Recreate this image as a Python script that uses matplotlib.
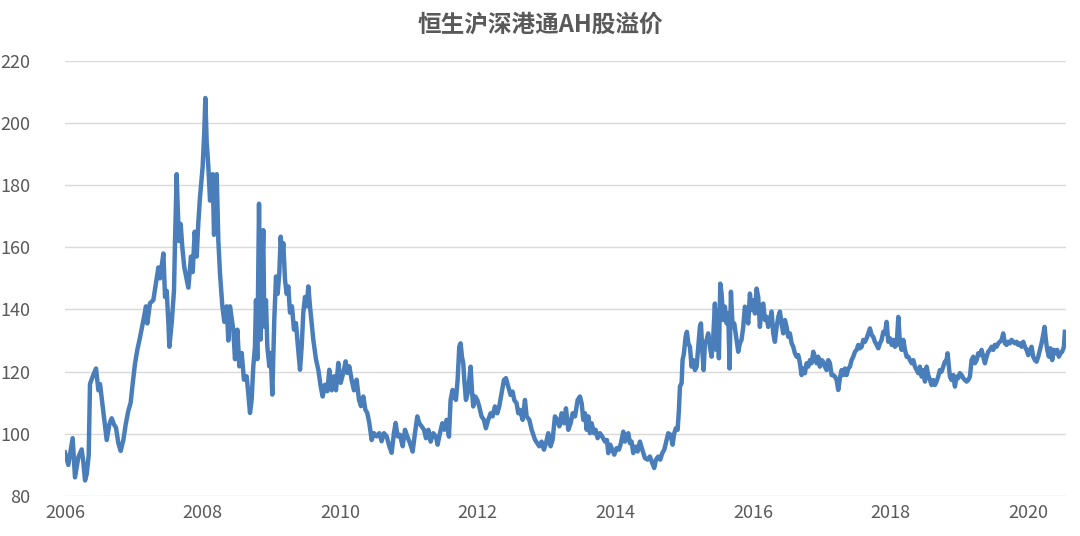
import matplotlib
matplotlib.use("Agg")
import matplotlib.pyplot as plt

plt.rcParams['font.family'] = ['Noto Sans CJK SC', 'DejaVu Sans']

title = "恒生沪深港通AH股溢价"

# decimal year / premium index
years = [
    2006.000, 2006.048, 2006.111, 2006.145, 2006.194, 2006.242, 2006.266, 2006.291, 2006.315, 2006.344,
    2006.363, 2006.412, 2006.451, 2006.485, 2006.509, 2006.547, 2006.581, 2006.606, 2006.644, 2006.678,
    2006.712, 2006.741, 2006.775, 2006.809, 2006.848, 2006.882, 2006.921, 2006.954, 2006.983, 2007.017,
    2007.051, 2007.090, 2007.139, 2007.177, 2007.196, 2007.235, 2007.284, 2007.318, 2007.357, 2007.381,
    2007.430, 2007.454, 2007.478, 2007.503, 2007.517, 2007.550, 2007.584, 2007.599, 2007.623, 2007.638,
    2007.657, 2007.681, 2007.705, 2007.734, 2007.793, 2007.831, 2007.856, 2007.885, 2007.914, 2007.938,
    2007.962, 2008.001, 2008.025, 2008.040, 2008.059, 2008.083, 2008.108, 2008.146, 2008.166, 2008.205,
    2008.229, 2008.253, 2008.287, 2008.316, 2008.350, 2008.374,
    2008.398, 2008.446, 2008.471, 2008.505, 2008.534, 2008.568, 2008.601, 2008.640, 2008.664, 2008.689,
    2008.713, 2008.737, 2008.761, 2008.776, 2008.795, 2008.820, 2008.844, 2008.858, 2008.882, 2008.897,
    2008.921, 2008.941, 2008.970, 2008.989, 2009.013, 2009.042, 2009.067, 2009.091, 2009.115, 2009.135,
    2009.154, 2009.173, 2009.198, 2009.222, 2009.246, 2009.270, 2009.299, 2009.328, 2009.357, 2009.382,
    2009.416, 2009.440, 2009.464, 2009.488, 2009.512, 2009.537, 2009.561, 2009.585, 2009.609, 2009.648,
    2009.682, 2009.716, 2009.745, 2009.779, 2009.813, 2009.842, 2009.876, 2009.910, 2009.939, 2009.973,
    2010.007, 2010.045, 2010.079, 2010.103, 2010.132, 2010.166, 2010.200, 2010.239, 2010.273, 2010.302,
    2010.336, 2010.365, 2010.394, 2010.423, 2010.457, 2010.491, 2010.530, 2010.569, 2010.602, 2010.636,
    2010.675, 2010.714, 2010.748, 2010.781, 2010.806, 2010.835,
    2010.869, 2010.908, 2010.942, 2010.976, 2011.014, 2011.053, 2011.087, 2011.121, 2011.150, 2011.184,
    2011.218, 2011.247, 2011.281, 2011.315, 2011.353, 2011.392, 2011.416, 2011.450, 2011.484, 2011.513,
    2011.547, 2011.581, 2011.605, 2011.634, 2011.658, 2011.682, 2011.707, 2011.731, 2011.750, 2011.770,
    2011.789, 2011.804, 2011.828, 2011.852, 2011.876, 2011.896, 2011.915, 2011.934, 2011.963, 2011.992,
    2012.021, 2012.055, 2012.089, 2012.118, 2012.152, 2012.186, 2012.215, 2012.249, 2012.283, 2012.312,
    2012.346, 2012.380, 2012.409, 2012.443, 2012.477, 2012.506, 2012.530, 2012.564, 2012.589, 2012.613,
    2012.652, 2012.686, 2012.710, 2012.749, 2012.783, 2012.807, 2012.832, 2012.865, 2012.894, 2012.928,
    2012.962, 2012.991, 2013.025, 2013.059, 2013.088, 2013.122, 2013.156, 2013.186, 2013.219, 2013.253,
    2013.282, 2013.316, 2013.350, 2013.379,
    2013.413, 2013.452, 2013.485, 2013.510, 2013.534, 2013.558, 2013.583, 2013.607, 2013.631, 2013.655,
    2013.689, 2013.713, 2013.742, 2013.776, 2013.810, 2013.849, 2013.878, 2013.897, 2013.926, 2013.955,
    2013.984, 2014.018, 2014.052, 2014.081, 2014.115, 2014.139, 2014.163, 2014.188, 2014.212, 2014.236,
    2014.260, 2014.294, 2014.323, 2014.357, 2014.391, 2014.430, 2014.468, 2014.502, 2014.536, 2014.565,
    2014.590, 2014.624, 2014.653, 2014.682, 2014.711, 2014.745, 2014.769, 2014.803, 2014.832, 2014.856,
    2014.880, 2014.905, 2014.924, 2014.939, 2014.963, 2014.977, 2014.997, 2015.021, 2015.040, 2015.060,
    2015.084, 2015.108, 2015.132, 2015.157, 2015.181, 2015.205, 2015.229, 2015.244, 2015.263, 2015.283,
    2015.302, 2015.326, 2015.350, 2015.374, 2015.399, 2015.423, 2015.447, 2015.467, 2015.486, 2015.505,
    2015.525, 2015.544, 2015.568, 2015.592, 2015.617, 2015.641, 2015.660, 2015.680, 2015.704, 2015.728,
    2015.762, 2015.786, 2015.810, 2015.834, 2015.859, 2015.883, 2015.907, 2015.931,
    2015.956, 2015.980, 2016.004, 2016.029, 2016.053, 2016.077, 2016.101, 2016.126, 2016.150, 2016.174,
    2016.198, 2016.222, 2016.247, 2016.271, 2016.295, 2016.319, 2016.344, 2016.368, 2016.392, 2016.416,
    2016.440, 2016.465, 2016.489, 2016.513, 2016.537, 2016.562, 2016.586, 2016.610, 2016.634, 2016.659,
    2016.683, 2016.707, 2016.731, 2016.755, 2016.780, 2016.804, 2016.828, 2016.852, 2016.877, 2016.901,
    2016.925, 2016.949, 2016.973, 2016.998, 2017.022, 2017.046, 2017.070, 2017.095, 2017.119, 2017.143,
    2017.167, 2017.192, 2017.216, 2017.240, 2017.264, 2017.289, 2017.313, 2017.337, 2017.361, 2017.386,
    2017.410, 2017.434, 2017.458, 2017.483, 2017.507, 2017.531, 2017.555, 2017.580, 2017.604, 2017.628,
    2017.652, 2017.676, 2017.701, 2017.725, 2017.749, 2017.773, 2017.798, 2017.822, 2017.846, 2017.870,
    2017.895, 2017.919, 2017.943, 2017.967, 2017.992, 2018.016, 2018.040, 2018.064, 2018.089, 2018.113,
    2018.137, 2018.161, 2018.186, 2018.210, 2018.234, 2018.258, 2018.282, 2018.307, 2018.331, 2018.355,
    2018.379, 2018.404,
    2018.427, 2018.451, 2018.476, 2018.500, 2018.524, 2018.548, 2018.572, 2018.597, 2018.621, 2018.645,
    2018.669, 2018.693, 2018.718, 2018.742, 2018.766, 2018.790, 2018.815, 2018.829, 2018.849, 2018.863,
    2018.887, 2018.912, 2018.936, 2018.960, 2018.984, 2019.008, 2019.033, 2019.057, 2019.081, 2019.105,
    2019.130, 2019.154, 2019.178, 2019.202, 2019.226, 2019.251, 2019.275, 2019.299, 2019.323, 2019.348,
    2019.372, 2019.396, 2019.420, 2019.444, 2019.469, 2019.493, 2019.517, 2019.541, 2019.566, 2019.590,
    2019.614, 2019.638, 2019.662, 2019.687, 2019.711, 2019.735, 2019.759, 2019.784, 2019.808, 2019.832,
    2019.856, 2019.880, 2019.905, 2019.929, 2019.953, 2019.977, 2020.002, 2020.026, 2020.050, 2020.074,
    2020.098, 2020.123, 2020.147, 2020.171, 2020.195, 2020.219, 2020.239, 2020.258, 2020.278, 2020.302,
    2020.326, 2020.350, 2020.374, 2020.399, 2020.423, 2020.447, 2020.471, 2020.495, 2020.520, 2020.534,
]

premium = [
    94, 90, 98.6, 86, 92.5, 95, 91, 85, 87, 93,
    116, 119, 121, 114, 116, 109, 103, 98, 103, 105,
    103, 102, 97, 94.5, 98, 103, 107.5, 110, 116, 122.5,
    127, 131, 136.5, 141, 135.5, 142, 143, 148, 153.5, 150,
    158, 144, 146, 135.5, 128, 135.5, 146, 162, 183.5, 173,
    162, 167.5, 160, 153.5, 147, 157, 152, 165, 157, 168,
    176, 186, 197.5, 208, 194, 186, 175, 183.5, 164, 183.5,
    162, 151.5, 141, 136, 141, 130,
    141, 133.5, 124, 133.5, 121.7, 126, 117.4, 118.5, 113, 106.7,
    111, 121.7, 128, 143, 124, 174, 130.3, 145, 165.5, 134.5,
    143, 128, 121.7, 126, 112.6, 136.7, 150.6, 145, 151.7, 163.4,
    157, 161.3, 149.5, 145, 147.4, 139, 141, 133.5, 135.6, 129,
    120.6, 128, 139, 144, 141, 147.4, 141, 135.6, 130.3, 124,
    120.6, 115.3, 112, 115.8, 113.7, 120.6, 114, 118.5, 114, 122.8,
    116.4, 119.6, 123.3, 119.6, 121.7, 117.4, 114, 117.4, 111, 108.9,
    112, 107.8, 106.7, 103.5, 98, 100.2, 99.2, 100.2, 97.6, 100.2,
    99.2, 96, 93.9, 100.2, 103.5, 99.2,
    99.7, 96, 101.3, 99.1, 97, 94.3, 100.2, 105.6, 103.4, 102.4,
    101.3, 98.6, 101.3, 97.5, 100.2, 99.1, 96.5, 100.2, 103.4, 101.3,
    104.5, 99.1, 110.9, 114.1, 112, 110.9, 117.3, 128, 129.1, 124.8,
    122.7, 117.3, 110.9, 113, 117.3, 121.6, 114.1, 108.8, 112, 110.9,
    108.8, 105.6, 104.5, 101.8, 104.5, 106.6, 105.6, 108.8, 106.6, 108.8,
    113, 117.3, 117.9, 115.2, 112.5, 113.6, 110.9, 109.8, 106.6, 107.7,
    104.5, 110.9, 105.6, 104.5, 101.3, 99.7, 98.1, 97, 96, 97.5,
    94.9, 97, 100.2, 96, 98.1, 105.6, 104.5, 102.4, 106.6, 103.4,
    108.2, 101.3, 103.4, 106.6,
    105.6, 110.9, 112, 109.8, 104.5, 106.6, 101.3, 105.6, 100.2, 103.4,
    100.2, 101.3, 98.6, 100.2, 99.1, 97.5, 98, 93.8, 96.5, 94.9,
    93.3, 95.4, 94.9, 97, 100.7, 97.5, 99.1, 100.2, 97, 97.5,
    93.8, 95.9, 94.3, 97.5, 94.9, 92.2, 91.7, 92.7, 90.6, 89,
    91.7, 92.7, 91.7, 93.8, 94.9, 98, 100.2, 99.7, 96.5, 100.2,
    101.8, 101.3, 107.7, 115.2, 116.3, 123.7, 125.9, 131.2, 132.8, 129.1,
    128, 121.6, 123.7, 120.5, 121.6, 128, 134.4, 135.5, 127, 120.5,
    129.1, 130.2, 132.3, 128, 124.8, 131.2, 141.9, 127, 139.8, 124.3,
    148.3, 145.1, 136.6, 140.9, 135.5, 138.7, 121, 145.7, 134.4, 135.5,
    130.2, 126.4, 129.1, 130.2, 134.4, 140.9, 139.8, 135.5,
    145.1, 139.8, 143, 138.7, 146.7, 144, 134.4, 140.9, 141.9, 136.6,
    137.6, 134.4, 136.6, 139.3, 132.3, 129.6, 134.4, 137.6, 139.3, 135.5,
    132.3, 136.6, 134.4, 131.2, 132.3, 129.1, 128, 125.9, 124.8, 125.3,
    122.7, 118.9, 121, 119.5, 122.7, 121.6, 123.7, 122.7, 126.4, 124.8,
    122.7, 124.8, 121.6, 123.7, 123.2, 121.6, 120.5, 123.7, 122.7, 118.9,
    118.9, 118.4, 117.3, 114.1, 117.9, 120.5, 118.9, 121, 118.9, 121,
    121.6, 123.7, 124.8, 126.4, 127, 128.6, 127.5, 128, 130.2, 129.6,
    130.7, 132.3, 133.9, 131.8, 131.2, 129.6, 128.6, 127.5, 129.1, 130.2,
    132.8, 132.3, 136, 129.6, 130.7, 128.6, 130.2, 128, 128.6, 137.6,
    129.1, 127, 130.2, 127, 124.8, 124.8, 123.7, 122.7, 123.7, 121.6,
    120.5, 119.5,
    121.6, 118.4, 120.5, 116.8, 121.6, 118.9, 117.3, 115.7, 117.3, 115.7,
    116.8, 118.4, 120.5, 120, 121.6, 123.2, 123.7, 125.9, 121.6, 118.4,
    117.3, 118.9, 115.2, 118.4, 117.9, 119.5, 118.9, 117.9, 117.3, 116.8,
    117.3, 118.4, 123.7, 124.8, 122.7, 123.7, 125.9, 125.3, 127, 124.8,
    122.7, 124.8, 126.4, 127, 128, 127, 128.6, 128, 129.1, 129.6,
    130.2, 132.3, 129.1, 128.6, 129.6, 129.1, 130.2, 129.6, 129.1, 129.6,
    128.6, 129.1, 128, 129.6, 128, 127, 125.3, 127, 128, 124.8,
    123.7, 123.2, 124.8, 127, 129.1, 131.8, 134.4, 130.2, 127, 124.8,
    127.5, 123.7, 127, 125.9, 127, 124.8, 125.9, 126.4, 128, 132.8,
]

year_ticks = [2006, 2008, 2010, 2012, 2014, 2016, 2018, 2020]
value_ticks = [80, 100, 120, 140, 160, 180, 200, 220]

fig = plt.figure(figsize=(10.8, 5.36), dpi=100)
ax = fig.add_axes([0.0602, 0.0746, 0.9268, 0.8122])

ax.plot(years, premium, color="#4a7ebb", linewidth=3.2, solid_joinstyle="round")

ax.set_xlim(2006, 2020.55)
ax.set_ylim(80, 220)
ax.set_xticks(year_ticks)
ax.set_xticklabels([str(y) for y in year_ticks])
ax.set_yticks(value_ticks)

ax.grid(axis="y", color="#d9d9d9", linewidth=1.0)
ax.set_axisbelow(True)
for s in ax.spines.values():
    s.set_visible(False)
ax.tick_params(axis="both", length=0, labelsize=13, colors="#595959")
ax.tick_params(axis="x", pad=6)
ax.tick_params(axis="y", pad=25)
for lab in ax.get_yticklabels():
    lab.set_horizontalalignment("right")

fig.text(0.5, 0.955, title, ha="center", va="center", fontsize=17,
         fontweight="bold", color="#595959")

fig.savefig("out.png", dpi=100)
